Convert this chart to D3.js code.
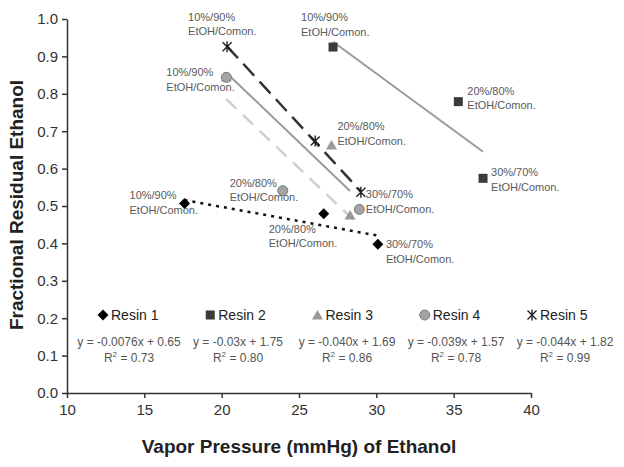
<!DOCTYPE html>
<html>
<head>
<meta charset="utf-8">
<script src="https://cdn.jsdelivr.net/npm/d3@7"></script>
<style>
  body { margin: 0; background: #fff; }
  svg { font-family: "Liberation Sans", Arial, sans-serif; }
</style>
</head>
<body>
<div id="chart"></div>
<script>
// data
var resinNames = ["Resin 1", "Resin 2", "Resin 3", "Resin 4", "Resin 5"];
var resin1X = [17.6, 26.6, 30.1],  resin1Y = [0.507, 0.479, 0.398];
var resin2X = [27.2, 35.3, 36.9],  resin2Y = [0.925, 0.779, 0.574];
var resin3X = [20.3, 27.1, 28.3],  resin3Y = [0.845, 0.663, 0.476];
var resin4X = [20.3, 23.95, 28.9], resin4Y = [0.844, 0.541, 0.491];
var resin5X = [20.35, 26.05, 29.0], resin5Y = [0.926, 0.674, 0.537];
var equations = ["y = -0.0076x + 0.65", "y = -0.03x + 1.75", "y = -0.040x + 1.69",
                 "y = -0.039x + 1.57", "y = -0.044x + 1.82"];
var rSquared = ["0.73", "0.80", "0.86", "0.78", "0.99"];
var ratioLabels = ["10%/90%", "20%/80%", "30%/70%"];
var xTicks = [10, 15, 20, 25, 30, 35, 40];
var yTicks = [0, 0.1, 0.2, 0.3, 0.4, 0.5, 0.6, 0.7, 0.8, 0.9, 1.0];

// which point gets a label: [resin, point, ratio]
var pointLabels = [
  [4, 0, 0], [1, 0, 0], [3, 0, 0], [3, 1, 1], [0, 0, 0], [0, 1, 1],
  [0, 2, 2], [2, 1, 1], [4, 2, 2], [1, 1, 1], [1, 2, 2]
];
// label offsets from the point (px), same order
var labelOffsets = [[-39, -30], [-32, -30], [-60, -5], [-53, -8], [-55, -8], [-55, 15],
                    [8, 0], [6, -19], [5, 2], [9, -11], [8, -6]];

var xs = [resin1X, resin2X, resin3X, resin4X, resin5X];
var ys = [resin1Y, resin2Y, resin3Y, resin4Y, resin5Y];

var width = 624, height = 467;
var svg = d3.select("#chart").append("svg")
  .attr("width", width).attr("height", height);

var x = d3.scaleLinear().domain([10, 40]).range([67, 531]);
var y = d3.scaleLinear().domain([0, 1]).range([393, 19]);

// axes
var yAxis = svg.append("g").attr("transform", "translate(67,0)")
  .call(d3.axisLeft(y).tickValues(yTicks).tickFormat(d3.format(".1f")).tickSize(5).tickSizeOuter(0).tickPadding(4));
var xAxis = svg.append("g").attr("transform", "translate(0,393)")
  .call(d3.axisBottom(x).tickValues(xTicks).tickSize(5).tickSizeOuter(0).tickPadding(6));
[xAxis, yAxis].forEach(function(a) {
  a.selectAll("path, line").attr("stroke", "#333").attr("stroke-width", 1.5);
  a.selectAll("text").attr("fill", "#333").style("font-size", "15px").style("font-family", "Liberation Sans, Arial");
});

svg.append("text")
  .attr("x", 299).attr("y", 453)
  .attr("text-anchor", "middle")
  .style("font-size", "19px").style("font-weight", "bold").attr("fill", "#222")
  .text("Vapor Pressure (mmHg) of Ethanol");
svg.append("text")
  .attr("transform", "translate(23,205) rotate(-90)")
  .attr("text-anchor", "middle")
  .style("font-size", "19px").style("font-weight", "bold").attr("fill", "#222")
  .text("Fractional Residual Ethanol");

// least-squares trend lines over each series' x range
function fit(xv, yv) {
  var mx = d3.mean(xv), my = d3.mean(yv);
  var sxy = d3.sum(xv, function(v, i) { return (v - mx) * (yv[i] - my); });
  var sxx = d3.sum(xv, function(v) { return (v - mx) * (v - mx); });
  var m = sxy / sxx;
  return { m: m, b: my - m * mx };
}
var lineStyles = [
  { stroke: "#111", width: 2.5, dash: "3,5" },
  { stroke: "#9a9a9a", width: 2, dash: null },
  { stroke: "#9a9a9a", width: 2, dash: null },
  { stroke: "#cfcfcf", width: 2.5, dash: "14,9" },
  { stroke: "#333", width: 2.5, dash: "16,8" }
];
var line = d3.line().x(function(d) { return x(d[0]); }).y(function(d) { return y(d[1]); });
xs.forEach(function(xv, i) {
  var f = fit(xv, ys[i]);
  var ext = d3.extent(xv);
  var pts = ext.map(function(v) { return [v, f.m * v + f.b]; });
  svg.append("path").attr("d", line(pts))
    .attr("fill", "none")
    .attr("stroke", lineStyles[i].stroke)
    .attr("stroke-width", lineStyles[i].width)
    .attr("stroke-dasharray", lineStyles[i].dash);
});

// markers
function drawMarker(g, i) {
  if (i === 0) {
    g.append("path").attr("d", "M0,-5.5L5.5,0L0,5.5L-5.5,0Z").attr("fill", "#000");
  } else if (i === 1) {
    g.append("rect").attr("x", -4.5).attr("y", -4.5).attr("width", 9).attr("height", 9)
      .attr("fill", "#3a3a3a");
  } else if (i === 2) {
    g.append("path").attr("d", "M0,-5L5.5,4.5L-5.5,4.5Z").attr("fill", "#9a9a9a");
  } else if (i === 3) {
    g.append("circle").attr("r", 5).attr("fill", "#a3a3a3").attr("stroke", "#7a7a7a").attr("stroke-width", 1);
  } else {
    g.append("path").attr("d", "M-4.5,-4.5L4.5,4.5M-4.5,4.5L4.5,-4.5M0,-5.5L0,5.5")
      .attr("stroke", "#222").attr("stroke-width", 1.4).attr("fill", "none");
  }
}
[1, 0, 2, 3, 4].forEach(function(i) {
  xs[i].forEach(function(v, j) {
    var g = svg.append("g").attr("transform", "translate(" + x(v) + "," + y(ys[i][j]) + ")");
    drawMarker(g, i);
  });
});

// point labels
pointLabels.forEach(function(p, k) {
  var px = x(xs[p[0]][p[1]]), py = y(ys[p[0]][p[1]]);
  var lx = px + labelOffsets[k][0];
  var t = svg.append("text")
    .attr("x", lx).attr("y", py + labelOffsets[k][1] + 4)
    .style("font-size", "11px").attr("fill", "#5a5a5a");
  [ratioLabels[p[2]], "EtOH/Comon."].forEach(function(s, n) {
    t.append("tspan").attr("x", lx).attr("dy", n === 0 ? 0 : 14.5).text(s);
  });
});

// legend and equations
var legendX = d3.scalePoint().domain(resinNames).range([103, 532]);
var eqX = d3.scalePoint().domain(resinNames).range([129, 565]);
resinNames.forEach(function(name, i) {
  var g = svg.append("g").attr("transform", "translate(" + legendX(name) + ",315)");
  drawMarker(g, i);
  svg.append("text").attr("x", legendX(name) + 8).attr("y", 320)
    .style("font-size", "14px").attr("fill", "#222").text(name);
  svg.append("text").attr("x", eqX(name)).attr("y", 346)
    .attr("text-anchor", "middle").style("font-size", "12px").attr("fill", "#555")
    .text(equations[i]);
  var r = svg.append("text").attr("x", eqX(name)).attr("y", 362)
    .attr("text-anchor", "middle").style("font-size", "12px").attr("fill", "#555");
  r.append("tspan").text("R");
  r.append("tspan").attr("dy", -5).style("font-size", "8px").text("2");
  r.append("tspan").attr("dy", 5).text(" = " + rSquared[i]);
});
</script>
</body>
</html>
